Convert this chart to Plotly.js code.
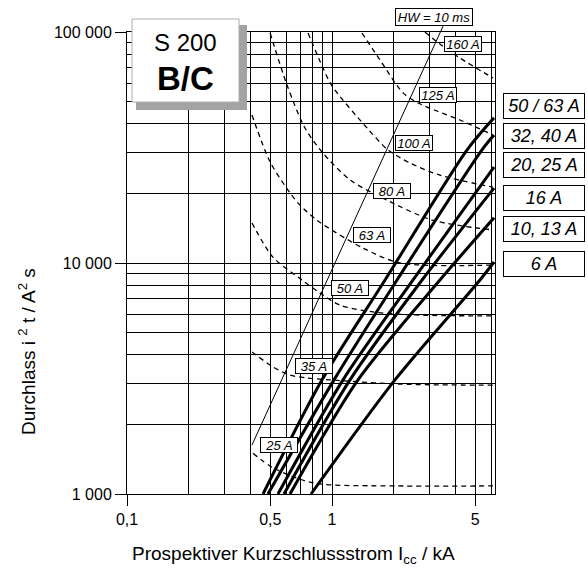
<!DOCTYPE html>
<html><head><meta charset="utf-8">
<script src="https://cdn.plot.ly/plotly-3.0.1.min.js"></script>
<style>html,body{margin:0;padding:0;background:#fff}#chart{width:588px;height:571px}</style>
</head><body><div id="chart"></div>
<script>
// ---- Data (kA, A²s) ----
// S 200 B/C let-through energy curves (thick)
const x_50_63 = [0.461, 0.894, 1.814, 4.56, 6.17];
const y_50_63 = [1000, 3120, 8440, 30900, 42500];
const x_32_40 = [0.487, 1.023, 2.075, 5.39, 6.17];
const y_32_40 = [1000, 3120, 8440, 30900, 35800];
const x_20_25 = [0.545, 1.132, 2.48, 6.17];
const y_20_25 = [1000, 3120, 8440, 26000];
const x_16 = [0.583, 1.224, 2.75, 6.17];
const y_16 = [1000, 3120, 8440, 21100];
const x_10_13 = [0.624, 1.339, 3.36, 6.17];
const y_10_13 = [1000, 3120, 8440, 15700];
const x_6 = [0.790, 2.028, 5.27, 6.17];
const y_6 = [1000, 3120, 8440, 10100];

// Fuse let-through curves (dashed)
const f25_x = [0.412, 0.515, 0.808, 2.075, 6.1];
const f25_y = [1500, 1300, 1117, 1084, 1084];
const f35_x = [0.407, 0.515, 0.624, 0.755, 0.978, 2.146, 6.1];
const f35_y = [4120, 3550, 3270, 3180, 3120, 2990, 2960];
const f50_x = [0.407, 0.515, 0.714, 0.874, 1.094, 1.585, 2.48, 6.1];
const f50_y = [14900, 10600, 8440, 7410, 6570, 6140, 5960, 5900];
const f63_x = [0.407, 0.499, 0.624, 0.698, 0.845, 0.946, 1.416, 2.146, 6.1];
const f63_y = [43700, 27400, 20100, 17800, 15300, 14300, 11600, 10000, 9800];
const f80_x = [0.499, 0.603, 0.738, 0.904, 1.224, 1.854, 3.11, 6.1];
const f80_y = [99000, 59000, 38400, 29900, 22900, 18700, 15300, 13900];
const f100_x = [0.764, 0.904, 1.0, 1.482, 1.875, 2.40, 3.36, 6.1];
const f100_y = [99000, 69800, 58400, 38400, 30900, 27100, 24000, 21300];
const f125_x = [1.40, 1.714, 2.22, 2.63, 3.25, 4.21, 6.1];
const f125_y = [99000, 75700, 54500, 49300, 45500, 41600, 35800];
const f160_x = [2.84, 3.36, 4.21, 6.1];
const f160_y = [100000, 88700, 77100, 63200];

// HW = 10 ms line
const hw_x = [0.407, 3.48];
const hw_y = [1630, 106000];

// Ticks / grid
const xTickVals = [0.1, 0.5, 1, 5];
const xTickText = ['0,1', '0,5', '1', '5'];
const xGridVals = [0.2, 0.3, 0.4, 0.6, 0.7, 0.8, 0.9, 2, 3, 4, 6];
const yTickVals = [1000, 10000, 100000];
const yTickText = ['1 000', '10 000', '100 000'];
const yGridVals = [2000, 3000, 4000, 5000, 6000, 7000, 8000, 9000,
                   20000, 30000, 40000, 50000, 60000, 70000, 80000, 90000];

// Labels
const mcbLabels = ['50 / 63 A', '32, 40 A', '20, 25 A', '16 A', '10, 13 A', '6 A'];
const fuseLabels = ['25 A', '35 A', '50 A', '63 A', '80 A', '100 A', '125 A', '160 A'];

// ---- Geometry helpers (pixel -> paper) ----
const L = 127, R = 495, T = 8, B = 494, YT = 32;
const W = R - L, H = B - T;
const px = v => (v - L) / W;
const py = v => (B - v) / H;

const SANS = '"Liberation Sans", Arial, Helvetica, sans-serif';

const thick = (x, y) => ({x, y, type: 'scatter', mode: 'lines', hoverinfo: 'skip',
  line: {color: '#000', width: 3, shape: 'spline', smoothing: 0.8}, showlegend: false});
const dashed = (x, y) => ({x, y, type: 'scatter', mode: 'lines', hoverinfo: 'skip',
  line: {color: '#000', width: 1.3, dash: '5px,4px', shape: 'spline', smoothing: 0.8}, showlegend: false});

const data = [
  dashed(f25_x, f25_y), dashed(f35_x, f35_y), dashed(f50_x, f50_y), dashed(f63_x, f63_y),
  dashed(f80_x, f80_y), dashed(f100_x, f100_y), dashed(f125_x, f125_y), dashed(f160_x, f160_y),
  thick(x_50_63, y_50_63), thick(x_32_40, y_32_40), thick(x_20_25, y_20_25),
  thick(x_16, y_16), thick(x_10_13, y_10_13), thick(x_6, y_6),
  {x: hw_x, y: hw_y, xaxis: 'x2', yaxis: 'y2', type: 'scatter', mode: 'lines', hoverinfo: 'skip',
   line: {color: '#000', width: 1}, showlegend: false}
];

const mainDomTop = (B - YT) / H;
const axisCommon = {
  type: 'log', showline: true, linecolor: '#000', linewidth: 1, mirror: true,
  ticks: 'outside', ticklen: 11, tickcolor: '#000', tickwidth: 1,
  showgrid: true, gridcolor: '#000', gridwidth: 1, zeroline: false,
  tickfont: {family: SANS, size: 16, color: '#000'}
};

const annotations = [];
// right side MCB labels
const mcbCenters = [105.5, 135.5, 165, 197.5, 229, 264];
mcbLabels.forEach((t, i) => annotations.push({
  text: t, xref: 'paper', yref: 'paper', x: px(544), y: py(mcbCenters[i]),
  xanchor: 'center', yanchor: 'middle', showarrow: false,
  width: 80, height: 24, borderpad: 0, bordercolor: '#000', borderwidth: 1, bgcolor: '#fff',
  font: {family: SANS, size: 18, color: '#000', style: 'italic'}
}));
// fuse labels in plot
const fusePos = [[278.5, 445], [314, 366], [349.5, 287.5], [372, 235], [392, 190.5],
                 [413.5, 143], [438, 94.5], [462.5, 44]];
fuseLabels.forEach((t, i) => annotations.push({
  text: t, xref: 'paper', yref: 'paper', x: px(fusePos[i][0]), y: py(fusePos[i][1]),
  xanchor: 'center', yanchor: 'middle', showarrow: false,
  width: 36, height: 14, borderpad: 0, bordercolor: '#000', borderwidth: 1, bgcolor: '#fff',
  font: {family: SANS, size: 13, color: '#000', style: 'italic'}
}));
annotations.push({
  text: 'HW = 10 ms', xref: 'paper', yref: 'paper', x: px(434), y: py(17),
  xanchor: 'center', yanchor: 'middle', showarrow: false,
  width: 76, height: 16, borderpad: 0, bordercolor: '#000', borderwidth: 1, bgcolor: '#fff',
  font: {family: SANS, size: 13, color: '#000', style: 'italic'}
});
// S 200 B/C box text
annotations.push({text: 'S 200', xref: 'paper', yref: 'paper', x: px(185.5), y: py(42),
  xanchor: 'center', yanchor: 'middle', showarrow: false,
  font: {family: SANS, size: 24, color: '#000'}});
annotations.push({text: '<b>B/C</b>', xref: 'paper', yref: 'paper', x: px(185.5), y: py(79),
  xanchor: 'center', yanchor: 'middle', showarrow: false,
  font: {family: SANS, size: 33, color: '#000'}});
// axis titles
annotations.push({text: 'Durchlass i <sup>2</sup> t / A<sup>2</sup> s', xref: 'paper', yref: 'paper',
  x: px(27), y: py(352), xanchor: 'center', yanchor: 'middle', textangle: -90, showarrow: false,
  font: {family: SANS, size: 19, color: '#000'}});
annotations.push({text: 'Prospektiver Kurzschlussstrom I<sub>cc</sub> / kA', xref: 'paper', yref: 'paper',
  x: px(293), y: py(555), xanchor: 'center', yanchor: 'middle', showarrow: false,
  font: {family: SANS, size: 19, color: '#000'}});

const layout = {
  width: 588, height: 571,
  margin: {l: L, r: 588 - R, t: T, b: 571 - B, pad: 0},
  paper_bgcolor: '#fff', plot_bgcolor: 'rgba(0,0,0,0)',
  showlegend: false,
  xaxis: Object.assign({}, axisCommon, {
    range: [-1, 0.795], domain: [0, 1], anchor: 'y',
    tickmode: 'array', tickvals: xTickVals, ticktext: xTickText,
    minor: {tickmode: 'array', tickvals: xGridVals, showgrid: true, gridcolor: '#000', gridwidth: 1, ticks: ''}
  }),
  yaxis: Object.assign({}, axisCommon, {
    range: [3, 5], domain: [0, mainDomTop], anchor: 'x',
    tickmode: 'array', tickvals: yTickVals, ticktext: yTickText,
    minor: {tickmode: 'array', tickvals: yGridVals, showgrid: true, gridcolor: '#000', gridwidth: 1, ticks: ''}
  }),
  xaxis2: {type: 'log', range: [-1, 0.795], domain: [0, 1], anchor: 'y2', visible: false, showgrid: false},
  yaxis2: {type: 'log', range: [3, 3 + 2 / mainDomTop], domain: [0, 1], anchor: 'x2', visible: false, showgrid: false},
  shapes: [
    {type: 'rect', xref: 'paper', yref: 'paper', x0: px(136), x1: px(247), y0: py(110), y1: py(25),
     fillcolor: '#a3a3a3', line: {width: 0}, layer: 'above'},
    {type: 'rect', xref: 'paper', yref: 'paper', x0: px(132), x1: px(239), y0: py(102), y1: py(19),
     fillcolor: '#fff', line: {color: '#b0b0b0', width: 1}, layer: 'above'}
  ],
  annotations: annotations
};

Plotly.newPlot('chart', data, layout, {displayModeBar: false, staticPlot: true});
</script>
</body></html>
